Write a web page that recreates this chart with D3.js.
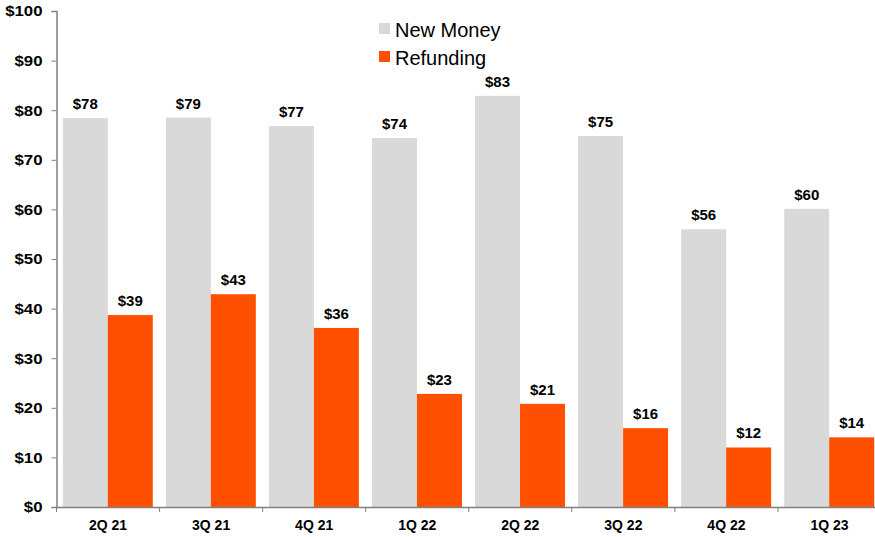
<!DOCTYPE html>
<html>
<head>
<meta charset="utf-8">
<script src="https://cdn.jsdelivr.net/npm/d3@7"></script>
<style>
  body { margin: 0; background: #fff; }
  svg { display: block; font-family: "Liberation Sans", Arial, sans-serif; }
</style>
</head>
<body>
<div id="container"></div>
<script>
const quarters = ['2Q 21', '3Q 21', '4Q 21', '1Q 22', '2Q 22', '3Q 22', '4Q 22', '1Q 23'];
const newMoney = [78.4, 78.5, 76.8, 74.4, 82.9, 74.8, 56.0, 60.1];
const refunding = [38.7, 42.9, 36.1, 22.8, 20.8, 15.9, 12.0, 14.05];
const seriesNames = ['New Money', 'Refunding'];
const yTicks = [0, 10, 20, 30, 40, 50, 60, 70, 80, 90, 100];

const colors = { 'New Money': '#d9d9d9', 'Refunding': '#ff5000' };

const w = 875;
const h = 537;
const plotLeft = 56.5;
const plotRight = 881;
const plotTop = 11;
const plotBottom = 507;

const svg = d3.select('#container')
  .append('svg')
  .attr('width', w)
  .attr('height', h);

const x = d3.scaleBand()
  .domain(quarters)
  .range([plotLeft, plotRight]);

const inner = d3.scaleBand()
  .domain(seriesNames)
  .range([6.3, x.bandwidth() - 6.8]);

const y = d3.scaleLinear()
  .domain([0, 100])
  .range([plotBottom, plotTop]);

const rows = quarters.map((q, i) => ({
  q,
  values: [
    { name: 'New Money', v: newMoney[i] },
    { name: 'Refunding', v: refunding[i] }
  ]
}));

const groups = svg.selectAll('g.grp')
  .data(rows)
  .enter()
  .append('g')
  .attr('class', 'grp')
  .attr('transform', d => `translate(${x(d.q)},0)`);

groups.selectAll('rect')
  .data(d => d.values)
  .enter()
  .append('rect')
  .attr('x', d => inner(d.name))
  .attr('y', d => y(d.v))
  .attr('width', inner.bandwidth())
  .attr('height', d => y(0) - y(d.v))
  .attr('fill', d => colors[d.name]);

groups.selectAll('text')
  .data(d => d.values)
  .enter()
  .append('text')
  .attr('x', d => inner(d.name) + inner.bandwidth() / 2)
  .attr('y', d => y(d.v) - 9)
  .attr('text-anchor', 'middle')
  .style('font-size', '15px')
  .style('font-weight', 'bold')
  .style('fill', '#000')
  .text(d => '$' + Math.round(d.v));

// y axis
const yAxis = d3.axisLeft(y)
  .tickValues(yTicks)
  .tickSize(5)
  .tickPadding(9)
  .tickFormat(d => '$' + d);

const yg = svg.append('g')
  .attr('transform', `translate(${plotLeft},0)`)
  .call(yAxis);
yg.select('.domain').attr('stroke', '#808080').attr('stroke-width', 1.5);
yg.selectAll('.tick line').attr('stroke', '#808080');
yg.selectAll('.tick text')
  .style('font-size', '15px')
  .style('font-weight', 'bold')
  .style('fill', '#000')
  .style('transform-box', 'fill-box')
  .style('transform-origin', 'right center')
  .style('transform', 'scaleX(1.12)');

// x axis
const xAxis = d3.axisBottom(x)
  .tickSize(0)
  .tickPadding(13);

const xg = svg.append('g')
  .attr('transform', `translate(0,${plotBottom})`)
  .call(xAxis);
xg.select('.domain').attr('stroke', '#808080').attr('stroke-width', 1.5);
xg.selectAll('.tick text')
  .style('font-size', '14px')
  .style('font-weight', 'bold')
  .style('fill', '#000');

// category separators
xg.selectAll('line.sep')
  .data(quarters)
  .enter()
  .append('line')
  .attr('class', 'sep')
  .attr('x1', d => x(d))
  .attr('x2', d => x(d))
  .attr('y1', 0)
  .attr('y2', 5)
  .attr('stroke', '#808080');

// legend
const legend = svg.append('g')
  .attr('transform', 'translate(379,23)');

const items = legend.selectAll('g')
  .data(seriesNames)
  .enter()
  .append('g')
  .attr('transform', (d, i) => `translate(0,${i * 28})`);

items.append('rect')
  .attr('width', 11)
  .attr('height', 11)
  .attr('fill', d => colors[d]);

items.append('text')
  .attr('x', 16)
  .attr('y', 13.5)
  .style('font-size', '20px')
  .style('fill', '#000')
  .text(d => d);
</script>
</body>
</html>
